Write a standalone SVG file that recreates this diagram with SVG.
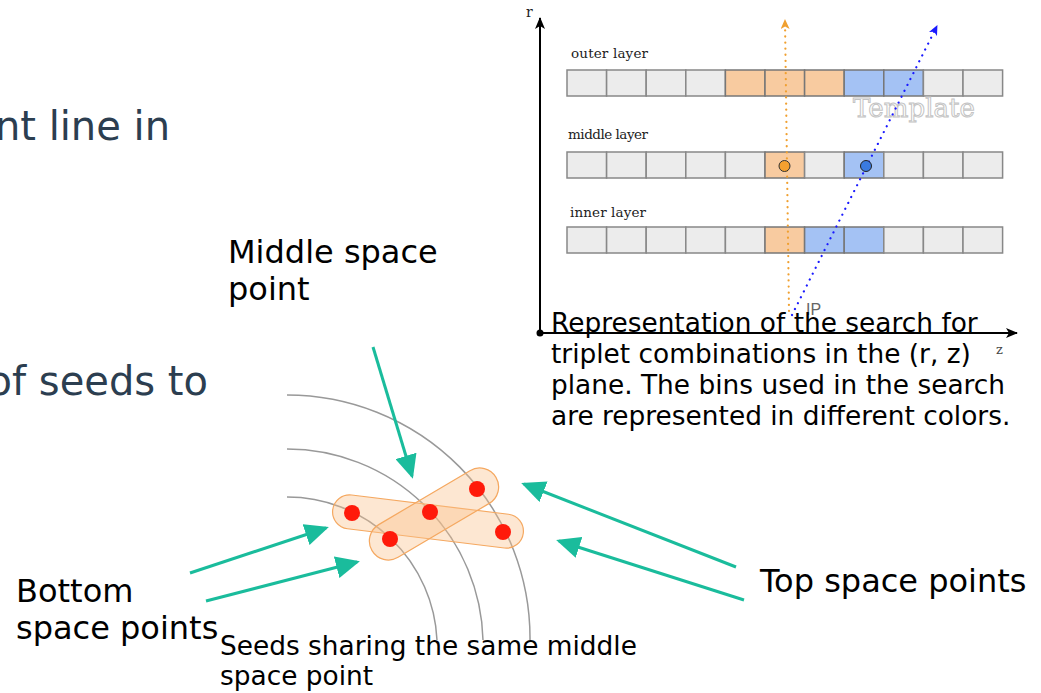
<svg xmlns="http://www.w3.org/2000/svg" width="1041" height="693" viewBox="0 0 1041 693">
<style>
.bg{fill:#ffffff}
.lbl{font-family:"DejaVu Sans",sans-serif;font-size:32px;fill:#000}
.cap{font-family:"DejaVu Sans",sans-serif;font-size:26.4px;fill:#000}
.slide{font-family:"DejaVu Sans",sans-serif;font-size:40px;fill:#2c3e50}
.layer{font-family:"DejaVu Serif",serif;font-size:13.5px;fill:#222}
.bin{fill:#ececec;stroke:#888;stroke-width:1.5}
.bo{fill:#f8cba0;stroke:#777;stroke-width:1.5}
.bb{fill:#a4c2f4;stroke:#777;stroke-width:1.5}
.track{fill:none;stroke:#999;stroke-width:1.5}
.dot{fill:#ff1a0a}
.blob{fill:#fbc08a;fill-opacity:0.38;stroke:#f5a860;stroke-width:1.2}
.teal{stroke:#1abc9c;stroke-width:3;fill:none;marker-end:url(#th)}
.axis{stroke:#000;stroke-width:2;fill:none}
</style>
<defs>
<marker id="th" viewBox="0 0 24 22" refX="21" refY="11" markerWidth="24" markerHeight="22" markerUnits="userSpaceOnUse" orient="auto"><path d="M0,0 L24,11 L0,22 z" fill="#1abc9c"/></marker>
<marker id="ax" viewBox="0 0 12 10" refX="11" refY="5" markerWidth="12" markerHeight="10" markerUnits="userSpaceOnUse" orient="auto"><path d="M0,0 L12,5 L0,10 L3,5 z" fill="#000"/></marker>
<marker id="oa" viewBox="0 0 10 9" refX="9" refY="4.5" markerWidth="10" markerHeight="9" markerUnits="userSpaceOnUse" orient="auto"><path d="M0,0 L10,4.5 L0,9 L2.5,4.5 z" fill="#f0a030"/></marker>
<marker id="ba" viewBox="0 0 10 9" refX="9" refY="4.5" markerWidth="10" markerHeight="9" markerUnits="userSpaceOnUse" orient="auto"><path d="M0,0 L10,4.5 L0,9 L2.5,4.5 z" fill="#1a1aff"/></marker>
</defs>
<rect class="bg" x="0" y="0" width="1041" height="693"/>

<g id="slide-text">
<text class="slide" x="170" y="140" text-anchor="end">nt line in</text>
<text class="slide" x="208" y="395" text-anchor="end">of seeds to</text>
</g>

<g id="rz-panel">
<line class="axis" x1="540" y1="333" x2="540" y2="18" marker-end="url(#ax)"/>
<line class="axis" x1="540" y1="333" x2="1017" y2="333" marker-end="url(#ax)"/>
<circle cx="540" cy="333" r="3.5" fill="#000"/>
<text x="526" y="17" style="font-family:'DejaVu Serif',serif;font-size:14px;fill:#222">r</text>
<text x="996" y="354" style="font-family:'DejaVu Serif',serif;font-size:13px;fill:#444">z</text>

<g id="outer-layer">
<text class="layer" x="571" y="58" textLength="77">outer layer</text>
<rect class="bin" x="567" y="70" width="39.6" height="26"/>
<rect class="bin" x="606.6" y="70" width="39.6" height="26"/>
<rect class="bin" x="646.2" y="70" width="39.6" height="26"/>
<rect class="bin" x="685.8" y="70" width="39.6" height="26"/>
<rect class="bo" x="725.4" y="70" width="39.6" height="26"/>
<rect class="bo" x="765" y="70" width="39.6" height="26"/>
<rect class="bo" x="804.6" y="70" width="39.6" height="26"/>
<rect class="bb" x="844.2" y="70" width="39.6" height="26"/>
<rect class="bb" x="883.8" y="70" width="39.6" height="26"/>
<rect class="bin" x="923.4" y="70" width="39.6" height="26"/>
<rect class="bin" x="963" y="70" width="39.6" height="26"/>
</g>
<g id="middle-layer">
<text class="layer" x="568" y="139" textLength="80">middle layer</text>
<rect class="bin" x="567" y="152" width="39.6" height="26"/>
<rect class="bin" x="606.6" y="152" width="39.6" height="26"/>
<rect class="bin" x="646.2" y="152" width="39.6" height="26"/>
<rect class="bin" x="685.8" y="152" width="39.6" height="26"/>
<rect class="bin" x="725.4" y="152" width="39.6" height="26"/>
<rect class="bo" x="765" y="152" width="39.6" height="26"/>
<rect class="bin" x="804.6" y="152" width="39.6" height="26"/>
<rect class="bb" x="844.2" y="152" width="39.6" height="26"/>
<rect class="bin" x="883.8" y="152" width="39.6" height="26"/>
<rect class="bin" x="923.4" y="152" width="39.6" height="26"/>
<rect class="bin" x="963" y="152" width="39.6" height="26"/>
</g>
<g id="inner-layer">
<text class="layer" x="570" y="217" textLength="76">inner layer</text>
<rect class="bin" x="567" y="227" width="39.6" height="26"/>
<rect class="bin" x="606.6" y="227" width="39.6" height="26"/>
<rect class="bin" x="646.2" y="227" width="39.6" height="26"/>
<rect class="bin" x="685.8" y="227" width="39.6" height="26"/>
<rect class="bin" x="725.4" y="227" width="39.6" height="26"/>
<rect class="bo" x="765" y="227" width="39.6" height="26"/>
<rect class="bb" x="804.6" y="227" width="39.6" height="26"/>
<rect class="bb" x="844.2" y="227" width="39.6" height="26"/>
<rect class="bin" x="883.8" y="227" width="39.6" height="26"/>
<rect class="bin" x="923.4" y="227" width="39.6" height="26"/>
<rect class="bin" x="963" y="227" width="39.6" height="26"/>
</g>
<text x="853" y="117" textLength="122" style="font-family:'DejaVu Serif',serif;font-size:26px;fill:#fff;stroke:#c4c4c4;stroke-width:1">Template</text>
<line x1="789" y1="311" x2="785" y2="20" stroke="#f0a030" stroke-width="2.2" stroke-dasharray="0.1 6" stroke-linecap="round" marker-end="url(#oa)"/>
<line x1="792" y1="315" x2="937" y2="26" stroke="#1a1aff" stroke-width="2.2" stroke-dasharray="0.1 6.5" stroke-linecap="round" marker-end="url(#ba)"/>
<circle cx="784.5" cy="166" r="5.5" fill="#f5a030" stroke="#333" stroke-width="1"/>
<circle cx="866" cy="166" r="5.5" fill="#3a7ae0" stroke="#222" stroke-width="1"/>
<text x="806" y="315" style="font-family:'Liberation Sans',sans-serif;font-size:16px;fill:#666">IP</text>
</g>

<g id="caption-rz">
<text class="cap" x="551" y="332">Representation of the search for</text>
<text class="cap" x="551" y="363">triplet combinations in the (r, z)</text>
<text class="cap" x="551" y="394">plane. The bins used in the search</text>
<text class="cap" x="551" y="425">are represented in different colors.</text>
</g>

<g id="tracks">
<path class="track" d="M287,395 A243,243 0 0 1 530,640"/>
<path class="track" d="M287,449 A196,196 0 0 1 483,640"/>
<path class="track" d="M287,497 A150,150 0 0 1 437,640"/>
</g>

<g id="seeds">
<rect class="blob" x="-96" y="-17" width="192" height="34" rx="17" transform="translate(428,521.5) rotate(7)"/>
<rect class="blob" x="-72" y="-19" width="144" height="38" rx="19" transform="translate(434,514) rotate(-30.6)"/>
<circle class="dot" cx="352" cy="513" r="8"/>
<circle class="dot" cx="390" cy="539" r="8"/>
<circle class="dot" cx="430" cy="512" r="8"/>
<circle class="dot" cx="477" cy="489" r="8"/>
<circle class="dot" cx="503" cy="532" r="8"/>
</g>

<g id="connectors">
<line class="teal" x1="373" y1="347" x2="412" y2="476"/>
<line class="teal" x1="736" y1="567" x2="524" y2="484"/>
<line class="teal" x1="744" y1="600" x2="559" y2="541"/>
<line class="teal" x1="190" y1="573" x2="326" y2="528"/>
<line class="teal" x1="206" y1="601" x2="357" y2="562"/>
</g>

<g id="label-middle">
<text class="lbl" x="228" y="263">Middle space</text>
<text class="lbl" x="228" y="300">point</text>
</g>
<g id="label-top">
<text class="lbl" x="760" y="592">Top space points</text>
</g>
<g id="label-bottom">
<text class="lbl" x="16" y="602">Bottom</text>
<text class="lbl" x="16" y="639">space points</text>
</g>
<g id="label-seeds">
<text class="cap" x="220" y="655">Seeds sharing the same middle</text>
<text class="cap" x="220" y="685">space point</text>
</g>
</svg>
